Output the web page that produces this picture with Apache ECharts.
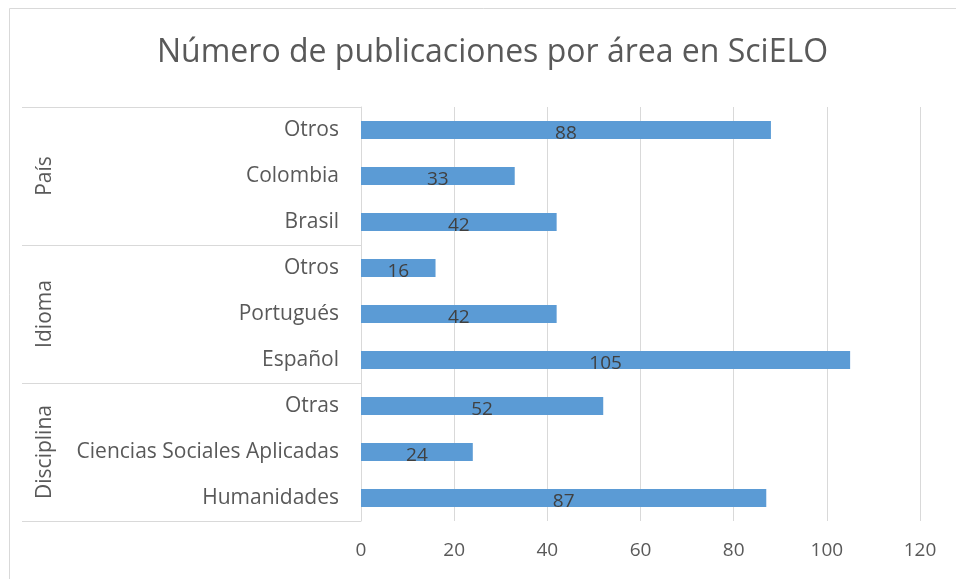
<!DOCTYPE html>
<html>
<head>
<meta charset="utf-8">
<script src="https://cdn.jsdelivr.net/npm/echarts@6/dist/echarts.min.js"></script>
<style>
  html, body { margin: 0; padding: 0; background: #fff; }
  #chart { width: 956px; height: 579px; }
</style>
</head>
<body>
<div id="chart"></div>
<script>
// categories listed bottom -> top
var categories = ["Humanidades", "Ciencias Sociales Aplicadas", "Otras", "Español", "Portugués", "Otros", "Brasil", "Colombia", "Otros"];
var values = [87, 24, 52, 105, 42, 16, 42, 33, 88];
var groups = ["Disciplina", "Idioma", "País"];
var xTicks = [0, 20, 40, 60, 80, 100, 120];

var FONT = "Open Sans";
var chart = echarts.init(document.getElementById("chart"));

var option = {
  backgroundColor: "#fff",
  textStyle: { fontFamily: FONT },
  title: {
    text: "Número de publicaciones por área en SciELO",
    left: 152,
    top: 32,
    textStyle: { fontFamily: FONT, fontSize: 32, fontWeight: "normal", color: "#595959" }
  },
  graphic: [{
    type: "rect",
    shape: { x: 9.5, y: 8.5, width: 1000, height: 600 },
    style: { fill: null, stroke: "#d9d9d9", lineWidth: 1 },
    silent: true
  }],
  grid: { left: 361, right: 36, top: 107, bottom: 58 },
  xAxis: {
    type: "value",
    min: xTicks[0],
    max: xTicks[xTicks.length - 1],
    interval: 20,
    axisLine: { show: false },
    axisTick: { show: false },
    axisLabel: { color: "#595959", fontSize: 19, margin: 20, fontFamily: FONT },
    splitLine: { lineStyle: { color: "#d9d9d9", width: 1 } }
  },
  yAxis: [{
    type: "category",
    data: categories,
    axisLine: { show: true, lineStyle: { color: "#d9d9d9" } },
    axisTick: { show: false },
    axisLabel: { color: "#595959", fontSize: 21, margin: 22, fontFamily: FONT, padding: [3, 0, 0, 0] }
  }, {
    type: "category",
    data: groups,
    position: "left",
    axisLine: { show: false },
    axisTick: { show: true, length: 339, lineStyle: { color: "#d9d9d9" } },
    axisLabel: { color: "#595959", fontSize: 21, rotate: 90, margin: 305, fontFamily: FONT }
  }],
  series: [{
    type: "bar",
    data: values,
    yAxisIndex: 0,
    barWidth: 18,
    itemStyle: { color: "#5b9bd5" },
    label: {
      show: true,
      position: "inside",
      color: "#404040",
      fontSize: 19,
      fontFamily: FONT,
      offset: [0, 4]
    }
  }]
};

chart.setOption(option);
</script>
</body>
</html>
